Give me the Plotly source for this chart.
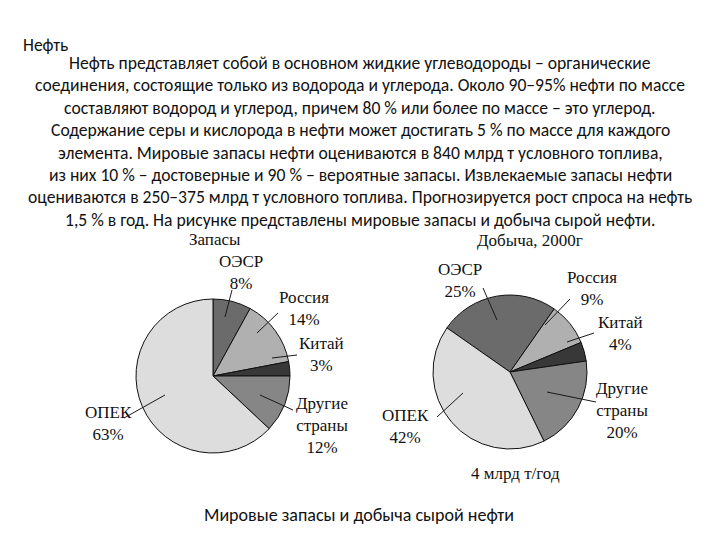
import plotly.graph_objects as go

W, H = 720, 540

# ---- data ----
regions = ["ОЭСР", "Россия", "Китай", "Другие страны", "ОПЕК"]
reserves_pct = [8, 14, 3, 12, 63]
production_pct = [25, 9, 4, 20, 42]
slice_colors = ["#6b6b6b", "#b0b0b0", "#383838", "#868686", "#dddddd"]

heading = "Нефть"
paragraph_lines = [
    "Нефть представляет собой в основном жидкие углеводороды – органические",
    "соединения, состоящие только из водорода и углерода. Около 90–95% нефти по массе",
    "составляют водород и углерод, причем 80 % или более по массе – это углерод.",
    "Содержание серы и кислорода в нефти может достигать 5 % по массе для каждого",
    "элемента. Мировые запасы нефти оцениваются в 840 млрд т условного топлива,",
    "из них 10 % – достоверные и 90 % – вероятные запасы. Извлекаемые запасы нефти",
    "оцениваются в 250–375 млрд т условного топлива. Прогнозируется рост спроса на нефть",
    "1,5 % в год. На рисунке представлены мировые запасы и добыча сырой нефти.",
]
caption = "Мировые запасы и добыча сырой нефти"
left_title = "Запасы"
right_title = "Добыча, 2000г"
right_note = "4 млрд т/год"

def px(x):
    return x / W

def py(y):
    return 1 - y / H

def domain(cx, cy, r):
    return dict(x=[px(cx - r), px(cx + r)], y=[py(cy + r), py(cy - r)])

fig = go.Figure()
fig.add_trace(go.Pie(
    labels=regions, values=reserves_pct, sort=False, direction="clockwise",
    rotation=0, textinfo="none", showlegend=False,
    marker=dict(colors=slice_colors, line=dict(color="#111111", width=1)),
    domain=domain(213, 376, 77),
))
fig.add_trace(go.Pie(
    labels=regions, values=production_pct, sort=False, direction="clockwise",
    rotation=-55, textinfo="none", showlegend=False,
    marker=dict(colors=slice_colors, line=dict(color="#111111", width=1)),
    domain=domain(510, 372, 77),
))

sans = "Carlito, Lato, sans-serif"
serif = "Liberation Serif, Times New Roman, serif"
ann = []
ann.append(dict(text=heading, x=px(21), y=py(45), xanchor="left", yanchor="middle",
                font=dict(family=sans, size=17.5, color="#111")))
for i, line in enumerate(paragraph_lines):
    ann.append(dict(text=line, x=px(360), y=py(63 + i * 22.4), xanchor="center",
                    yanchor="middle", font=dict(family=sans, size=17.6, color="#111")))
ann.append(dict(text=caption, x=px(359), y=py(515), xanchor="center", yanchor="middle",
                font=dict(family=sans, size=18, color="#111")))

serif_font = dict(family=serif, size=17, color="#111111")
# titles
ann.append(dict(text=left_title, x=px(215), y=py(239), xanchor="center", yanchor="middle", font=serif_font))
ann.append(dict(text=right_title, x=px(530), y=py(240), xanchor="center", yanchor="middle", font=serif_font))
ann.append(dict(text=right_note, x=px(515), y=py(473), xanchor="center", yanchor="middle", font=serif_font))

# label text: (text, cx, cy)
left_labels = [
    ("ОЭСР<br>8%", 241, 272),
    ("Россия<br>14%", 304, 308),
    ("Китай<br>3%", 321, 354),
    ("Другие<br>страны<br>12%", 322, 425),
    ("ОПЕК<br>63%", 109, 423),
]
right_labels = [
    ("ОЭСР<br>25%", 460, 280),
    ("Россия<br>9%", 592, 288),
    ("Китай<br>4%", 620, 333),
    ("Другие<br>страны<br>20%", 622, 410),
    ("ОПЕК<br>42%", 405, 426),
]
for t, x, y in left_labels + right_labels:
    ann.append(dict(text=t, x=px(x), y=py(y), xanchor="center", yanchor="middle",
                    font=serif_font, showarrow=False))

# leader lines (start, end) in pixels
leaders = [
    ((232, 290), (225, 317)),
    ((278, 313), (257, 333)),
    ((297, 355), (272, 358)),
    ((293, 410), (260, 395)),
    ((124, 418), (165, 395)),
    ((483, 288), (497, 320)),
    ((570, 299), (545, 325)),
    ((594, 333), (567, 342)),
    ((596, 402), (547, 392)),
    ((437, 417), (463, 393)),
]
shapes = []
for (x0, y0), (x1, y1) in leaders:
    shapes.append(dict(type="line", xref="paper", yref="paper",
                       x0=px(x0), y0=py(y0), x1=px(x1), y1=py(y1),
                       line=dict(color="#1a1a1a", width=1)))

for a in ann:
    a.setdefault("showarrow", False)
    a["xref"] = "paper"
    a["yref"] = "paper"

fig.update_layout(
    width=W, height=H, margin=dict(l=0, r=0, t=0, b=0),
    paper_bgcolor="white", plot_bgcolor="white",
    annotations=ann, shapes=shapes,
)
fig.write_html("out.html", config={"displayModeBar": False},
               post_script="document.body.style.margin='0px';document.body.style.overflow='hidden';")
